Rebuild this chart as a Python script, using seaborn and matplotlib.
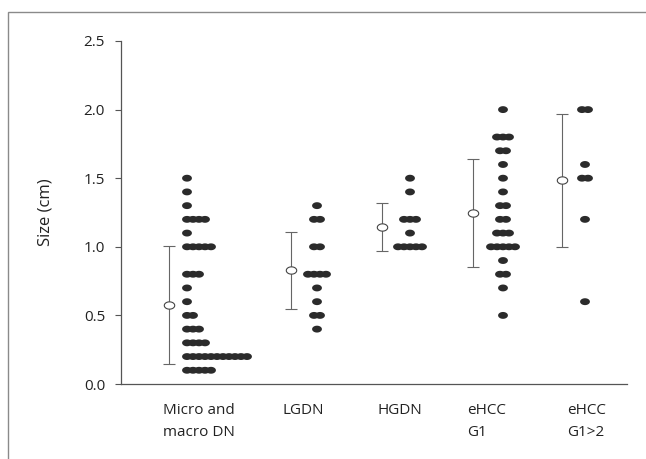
import numpy as np
import pandas as pd
import matplotlib
matplotlib.use('Agg')
import matplotlib.pyplot as plt
import matplotlib.transforms as mtransforms
from matplotlib.path import Path
from matplotlib.patches import Rectangle
import seaborn as sns

# groups shown on the x axis
groups = ['Micro and\nmacro DN', 'LGDN', 'HGDN', 'eHCC\nG1', 'eHCC\nG1>2']

# lesion sizes (cm), one entry per dot
micro_dn = ([1.5, 1.4, 1.3] + [1.2] * 4 + [1.1] + [1.0] * 5 + [0.8] * 3 + [0.7, 0.6]
            + [0.5] * 2 + [0.4] * 3 + [0.3] * 4 + [0.2] * 11 + [0.1] * 5)
lgdn = [1.3] + [1.2] * 2 + [1.0] * 2 + [0.8] * 4 + [0.7, 0.6] + [0.5] * 2 + [0.4]
hgdn = [1.5, 1.4] + [1.2] * 3 + [1.1] + [1.0] * 5
ehcc_g1 = ([2.0] + [1.8] * 3 + [1.7] * 2 + [1.6, 1.5, 1.4] + [1.3] * 2 + [1.2] * 2
           + [1.1] * 3 + [1.0] * 5 + [0.9] + [0.8] * 2 + [0.7, 0.5])
ehcc_g1_2 = [2.0, 2.0, 1.6, 1.5, 1.5, 1.2, 0.6]

# mean and SD drawn to the left of each column
means = [0.575, 0.83, 1.145, 1.245, 1.485]
sds = [0.43, 0.28, 0.175, 0.395, 0.485]

# layout (x in pixel-like units of the axes)
bar_x = [169, 291, 382, 473, 562]
dot_anchor = [187, 317, 410, 503, 585]
dot_align = ['left', 'center', 'center', 'center', 'center']
label_x = [163, 282, 377, 467, 567]
step = 6.0

values = [micro_dn, lgdn, hgdn, ehcc_g1, ehcc_g1_2]
rows = []
for gi, vals in enumerate(values):
    for v in vals:
        rows.append({'group': gi, 'size': v})
df = pd.DataFrame(rows)
df['slot'] = df.groupby(['group', 'size']).cumcount()
df['n'] = df.groupby(['group', 'size'])['size'].transform('count')


def dot_x(r):
    g = int(r['group'])
    if dot_align[g] == 'left':
        return dot_anchor[g] + r['slot'] * step
    return dot_anchor[g] + (r['slot'] - (r['n'] - 1) / 2) * step


df['x'] = df.apply(dot_x, axis=1)

sns.set_theme(style='white')
plt.rcParams['font.family'] = ['Open Sans', 'DejaVu Sans']

# slightly flattened dots like the printed figure
theta = np.linspace(0, 2 * np.pi, 60)
ellipse = Path(np.column_stack([np.cos(theta), 0.7 * np.sin(theta)]), closed=True)

fig = plt.figure(figsize=(6.46, 4.59), dpi=100)
ax = fig.add_axes([121 / 646, 1 - 384 / 459, 506 / 646, 343 / 459])

sns.scatterplot(data=df, x='x', y='size', ax=ax, marker=ellipse, s=50,
                color='#2b2b2b', edgecolor='none', linewidth=0, legend=False, zorder=3)

ax.errorbar(bar_x, means, yerr=sds, fmt='none', ecolor='#666666', elinewidth=0.8,
            capsize=4, capthick=0.8, zorder=2)
ax.plot(bar_x, means, linestyle='none', marker=ellipse, markersize=7.5,
        markerfacecolor='white', markeredgecolor='#444444', markeredgewidth=0.8, zorder=4)

ax.set_xlim(121, 627)
ax.set_ylim(0, 2.5)
ax.set_yticks(np.arange(0, 2.51, 0.5))
ax.set_yticklabels([f'{t:.1f}' for t in np.arange(0, 2.51, 0.5)])
ax.set_xticks([])
ax.set_xlabel('')
ax.set_ylabel('Size (cm)', fontsize=12, color='#222222', labelpad=22)
ax.tick_params(axis='y', direction='out', length=4.5, width=0.8, color='#555555',
               labelsize=11, labelcolor='#222222', pad=7, left=True)

for side in ['top', 'right']:
    ax.spines[side].set_visible(False)
for side in ['left', 'bottom']:
    ax.spines[side].set_color('#555555')
    ax.spines[side].set_linewidth(0.9)

trans = mtransforms.blended_transform_factory(ax.transData, ax.transAxes)
for lx, name in zip(label_x, groups):
    ax.text(lx, -0.056, name, transform=trans, ha='left', va='top', fontsize=11,
            color='#222222', linespacing=1.6)

# outer frame of the figure panel
fig.patches.append(Rectangle((8 / 646, -0.5), 2, 1.5 - 12 / 459, transform=fig.transFigure,
                             fill=False, edgecolor='#8a8a8a', linewidth=1.0))

fig.savefig('out.png', dpi=100)
